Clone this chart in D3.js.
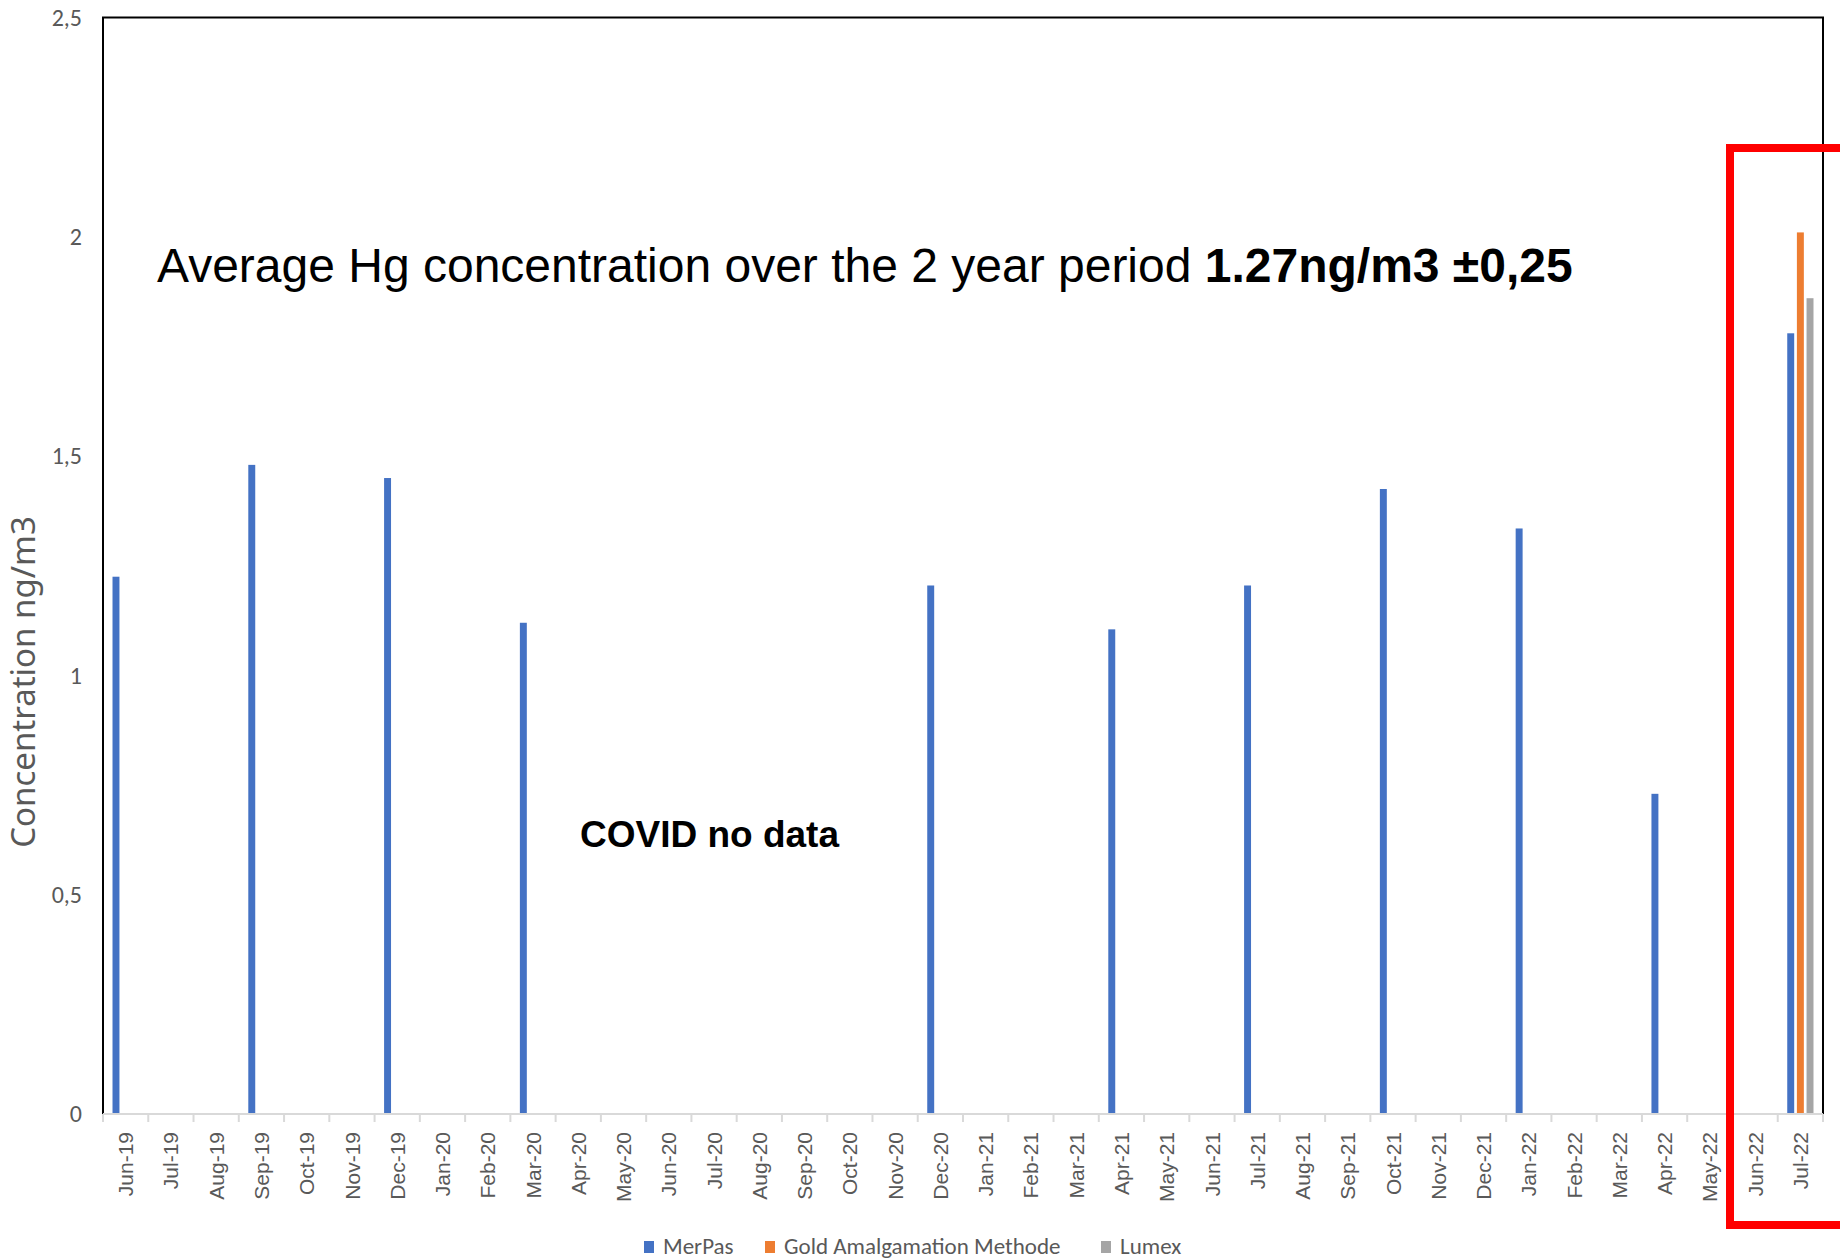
<!DOCTYPE html>
<html>
<head>
<meta charset="utf-8">
<script src="https://cdn.jsdelivr.net/npm/d3@7"></script>
<style>
  body { margin: 0; background: #fff; }
  svg { display: block; }
</style>
</head>
<body>
<script>
// month labels on the x axis
const months = ['Jun-19', 'Jul-19', 'Aug-19', 'Sep-19', 'Oct-19', 'Nov-19', 'Dec-19', 'Jan-20', 'Feb-20', 'Mar-20',
  'Apr-20', 'May-20', 'Jun-20', 'Jul-20', 'Aug-20', 'Sep-20', 'Oct-20', 'Nov-20', 'Dec-20', 'Jan-21',
  'Feb-21', 'Mar-21', 'Apr-21', 'May-21', 'Jun-21', 'Jul-21', 'Aug-21', 'Sep-21', 'Oct-21', 'Nov-21',
  'Dec-21', 'Jan-22', 'Feb-22', 'Mar-22', 'Apr-22', 'May-22', 'Jun-22', 'Jul-22'];

const seriesNames = ['MerPas', 'Gold Amalgamation Methode', 'Lumex'];
const seriesColors = ['#4472C4', '#ED7D31', '#A5A5A5'];

// measured values (ng/m3), only the months that have data
const merpasMonths = ['Jun-19', 'Sep-19', 'Dec-19', 'Mar-20', 'Dec-20', 'Apr-21', 'Jul-21', 'Oct-21', 'Jan-22', 'Apr-22', 'Jul-22'];
const merpasValues = [1.225, 1.48, 1.45, 1.12, 1.205, 1.105, 1.205, 1.425, 1.335, 0.73, 1.78];
const goldMonths = ['Jul-22'];
const goldValues = [2.01];
const lumexMonths = ['Jul-22'];
const lumexValues = [1.86];

const yTicks = [0, 0.5, 1, 1.5, 2, 2.5];

document.addEventListener('DOMContentLoaded', () => {
  const w = 1840;
  const h = 1259;
  const left = 103, right = 1823, top = 17.5, bottom = 1114;

  const points = [];
  merpasMonths.forEach((m, i) => points.push({ month: m, series: seriesNames[0], value: merpasValues[i] }));
  goldMonths.forEach((m, i) => points.push({ month: m, series: seriesNames[1], value: goldValues[i] }));
  lumexMonths.forEach((m, i) => points.push({ month: m, series: seriesNames[2], value: lumexValues[i] }));

  const xScale = d3.scaleBand()
                   .domain(months)
                   .range([left, right])
                   .paddingInner(0.42)
                   .paddingOuter(0.21);
  const xInner = d3.scaleBand()
                   .domain(seriesNames)
                   .range([0, xScale.bandwidth()])
                   .paddingInner(0.28);
  const yScale = d3.scaleLinear()
                   .domain([0, 2.5])
                   .range([bottom, top]);
  const color = d3.scaleOrdinal().domain(seriesNames).range(seriesColors);

  const svg = d3.select('body')
                .append('svg')
                .attr('width', w)
                .attr('height', h);

  // bars
  svg.append('g')
     .selectAll('rect')
     .data(points)
     .enter()
     .append('rect')
     .attr('x', (d) => xScale(d.month) + xInner(d.series))
     .attr('width', xInner.bandwidth())
     .attr('y', (d) => yScale(d.value))
     .attr('height', (d) => yScale(0) - yScale(d.value))
     .style('fill', (d) => color(d.series));

  // plot frame (left, top, right)
  svg.append('path')
     .attr('d', 'M' + left + ',' + bottom + 'V' + top + 'H' + right + 'V' + bottom)
     .attr('fill', 'none')
     .attr('stroke', '#000')
     .attr('stroke-width', 2);

  // x axis: grey line, ticks between months, rotated labels
  const boundaries = d3.range(months.length + 1).map((i) => left + i * xScale.step());
  svg.append('line')
     .attr('x1', left).attr('x2', right)
     .attr('y1', bottom).attr('y2', bottom)
     .attr('stroke', '#D9D9D9')
     .attr('stroke-width', 2);
  svg.append('g')
     .selectAll('line')
     .data(boundaries)
     .enter()
     .append('line')
     .attr('x1', (d) => d).attr('x2', (d) => d)
     .attr('y1', bottom).attr('y2', bottom + 8)
     .attr('stroke', '#D9D9D9')
     .attr('stroke-width', 2);

  const xAxis = d3.axisBottom(xScale).tickSize(0);
  const gx = svg.append('g')
                .attr('id', 'x-axis')
                .attr('transform', 'translate(0,' + bottom + ')')
                .call(xAxis);
  gx.select('.domain').remove();
  gx.selectAll('text')
    .attr('transform', 'rotate(-90)')
    .attr('x', -18)
    .attr('y', 0)
    .attr('dy', '0.36em')
    .attr('text-anchor', 'end')
    .style('font-family', '"Liberation Sans", Arial, sans-serif')
    .style('font-size', '21px')
    .style('fill', '#595959');

  // y axis labels
  const yAxis = d3.axisLeft(yScale)
                  .tickValues(yTicks)
                  .tickSize(0)
                  .tickPadding(21)
                  .tickFormat((d) => String(d).replace('.', ','));
  const gy = svg.append('g')
                .attr('id', 'y-axis')
                .attr('transform', 'translate(' + left + ',0)')
                .call(yAxis);
  gy.select('.domain').remove();
  gy.selectAll('text')
    .style('font-family', 'Carlito, Lato, sans-serif')
    .style('font-size', '24px')
    .style('fill', '#595959');

  svg.append('text')
     .text('Concentration ng/m3')
     .attr('transform', 'translate(35, 682)rotate(-90)')
     .attr('text-anchor', 'middle')
     .style('font-family', '"Noto Sans", sans-serif')
     .style('font-size', '33px')
     .style('fill', '#595959');

  // annotations
  const note = svg.append('text')
                  .attr('x', 157)
                  .attr('y', 282)
                  .style('font-family', '"Liberation Sans", Arial, sans-serif')
                  .style('font-size', '48px')
                  .style('fill', '#000');
  note.append('tspan').text('Average Hg concentration over the 2 year period ');
  note.append('tspan').text('1.27ng/m3 \u00b10,25').style('font-weight', 'bold');

  svg.append('text')
     .text('COVID no data')
     .attr('x', 580)
     .attr('y', 847)
     .style('font-family', '"Liberation Sans", Arial, sans-serif')
     .style('font-size', '37px')
     .style('font-weight', 'bold')
     .style('fill', '#000');

  // red highlight box around the last month (runs off the right edge)
  svg.append('rect')
     .attr('x', 1730)
     .attr('y', 148)
     .attr('width', 200)
     .attr('height', 1077)
     .attr('fill', 'none')
     .attr('stroke', '#FF0000')
     .attr('stroke-width', 8);

  // legend
  const legendX = [644, 765, 1101];
  const legend = svg.append('g')
                    .selectAll('g')
                    .data(seriesNames)
                    .enter()
                    .append('g')
                    .attr('transform', (d, i) => 'translate(' + legendX[i] + ',1241)');
  legend.append('rect')
        .attr('width', 10)
        .attr('height', 12)
        .style('fill', (d) => color(d));
  legend.append('text')
        .text((d) => d)
        .attr('x', 19)
        .attr('y', 13)
        .style('font-family', 'Carlito, Lato, sans-serif')
        .style('font-size', '23px')
        .style('fill', '#595959');
});
</script>
</body>
</html>
